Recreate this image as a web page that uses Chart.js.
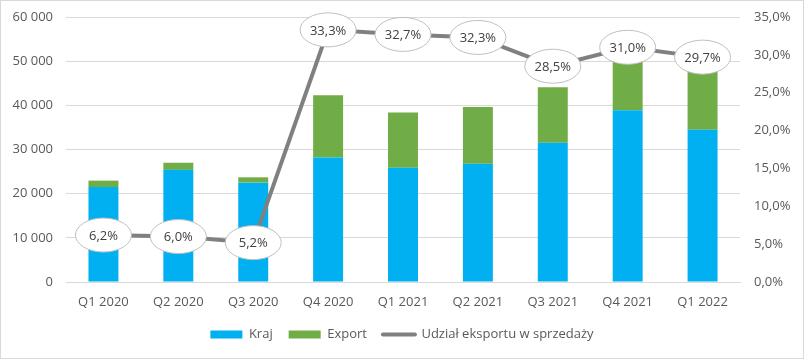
<!DOCTYPE html>
<html>
<head>
<meta charset="utf-8">
<script src="https://cdn.jsdelivr.net/npm/chart.js@4.4.0/dist/chart.umd.min.js"></script>
<style>
  html, body { margin: 0; padding: 0; background: #fff; }
  #wrap { width: 804px; height: 359px; box-sizing: border-box; border: 1px solid #d9d9d9; }
  #chart { display: block; }
</style>
</head>
<body>
<div id="wrap"><canvas id="chart" width="802" height="357"></canvas></div>
<script>
const quarters = ['Q1 2020', 'Q2 2020', 'Q3 2020', 'Q4 2020', 'Q1 2021', 'Q2 2021', 'Q3 2021', 'Q4 2021', 'Q1 2022'];
const kraj = [21500, 25400, 22500, 28200, 25850, 26800, 31550, 38900, 34500];
const exportVals = [1450, 1600, 1200, 14100, 12550, 12800, 12550, 17400, 14600];
const exportShare = [6.2, 6.0, 5.2, 33.3, 32.7, 32.3, 28.5, 31.0, 29.7];

const textColor = '#595959';
const fontFamily = '"Open Sans", "Liberation Sans", sans-serif';

const fmtThousands = v => String(v).replace(/\B(?=(\d{3})+(?!\d))/g, ' ');
const fmtPct = v => v.toFixed(1).replace('.', ',') + '%';

// ellipse labels on the line
const ellipseLabels = {
  id: 'ellipseLabels',
  afterDatasetsDraw(chart) {
    const meta = chart.getDatasetMeta(2);
    const ctx = chart.ctx;
    ctx.save();
    meta.data.forEach((pt, i) => {
      ctx.beginPath();
      ctx.ellipse(pt.x, pt.y, 28, 17, 0, 0, Math.PI * 2);
      ctx.fillStyle = '#ffffff';
      ctx.fill();
      ctx.lineWidth = 1;
      ctx.strokeStyle = '#bfbfbf';
      ctx.stroke();
      ctx.fillStyle = '#404040';
      ctx.font = '13px ' + fontFamily;
      ctx.textAlign = 'center';
      ctx.textBaseline = 'middle';
      ctx.fillText(fmtPct(exportShare[i]), pt.x, pt.y + 1);
    });
    ctx.restore();
  }
};

Chart.defaults.font.family = fontFamily;
Chart.defaults.font.size = 13;
Chart.defaults.color = textColor;

new Chart(document.getElementById('chart'), {
  type: 'bar',
  data: {
    labels: quarters,
    datasets: [
      {
        label: 'Kraj',
        data: kraj,
        backgroundColor: '#00b0f0',
        stack: 's',
        yAxisID: 'y',
        order: 2,
        barPercentage: 0.4,
        categoryPercentage: 1
      },
      {
        label: 'Export',
        data: exportVals,
        backgroundColor: '#70ad47',
        stack: 's',
        yAxisID: 'y',
        order: 2,
        barPercentage: 0.4,
        categoryPercentage: 1
      },
      {
        type: 'line',
        label: 'Udział eksportu w sprzedaży',
        data: exportShare,
        borderColor: '#808080',
        backgroundColor: '#808080',
        borderWidth: 4,
        pointRadius: 0,
        tension: 0,
        yAxisID: 'y1',
        order: 1
      }
    ]
  },
  options: {
    responsive: false,
    animation: false,
    layout: { padding: { top: 16, bottom: 7 } },
    scales: {
      x: {
        stacked: true,
        grid: { display: false, drawTicks: false },
        border: { display: true, color: '#d9d9d9' },
        ticks: { padding: 12, color: textColor },
        afterFit: s => { s.height = 30; }
      },
      y: {
        stacked: true,
        position: 'left',
        min: 0,
        max: 60000,
        grid: { color: '#d9d9d9', drawTicks: false },
        border: { display: false },
        ticks: { stepSize: 10000, padding: 13, callback: v => fmtThousands(v) },
        afterFit: s => { s.width = 65; s.paddingTop = 8; }
      },
      y1: {
        position: 'right',
        min: 0,
        max: 35,
        grid: { display: false, drawTicks: false },
        border: { display: false },
        ticks: { stepSize: 5, padding: 14, callback: v => fmtPct(v) },
        afterFit: s => { s.width = 63; s.paddingTop = 8; }
      }
    },
    plugins: {
      tooltip: { enabled: false },
      legend: {
        position: 'bottom',
        labels: {
          usePointStyle: true,
          pointStyleWidth: 32,
          boxWidth: 32,
          boxHeight: 8,
          padding: 16,
          color: textColor,
          sort: (a, b) => a.datasetIndex - b.datasetIndex,
          generateLabels(chart) {
            const items = Chart.defaults.plugins.legend.labels.generateLabels(chart);
            items.forEach(it => {
              if (it.datasetIndex === 2) {
                it.pointStyle = 'line';
                it.lineWidth = 4;
                it.strokeStyle = '#808080';
                it.lineCap = 'round';
              } else {
                it.pointStyle = 'rect';
                it.lineWidth = 0;
              }
            });
            return items;
          }
        }
      }
    }
  },
  plugins: [ellipseLabels]
});
</script>
</body>
</html>
